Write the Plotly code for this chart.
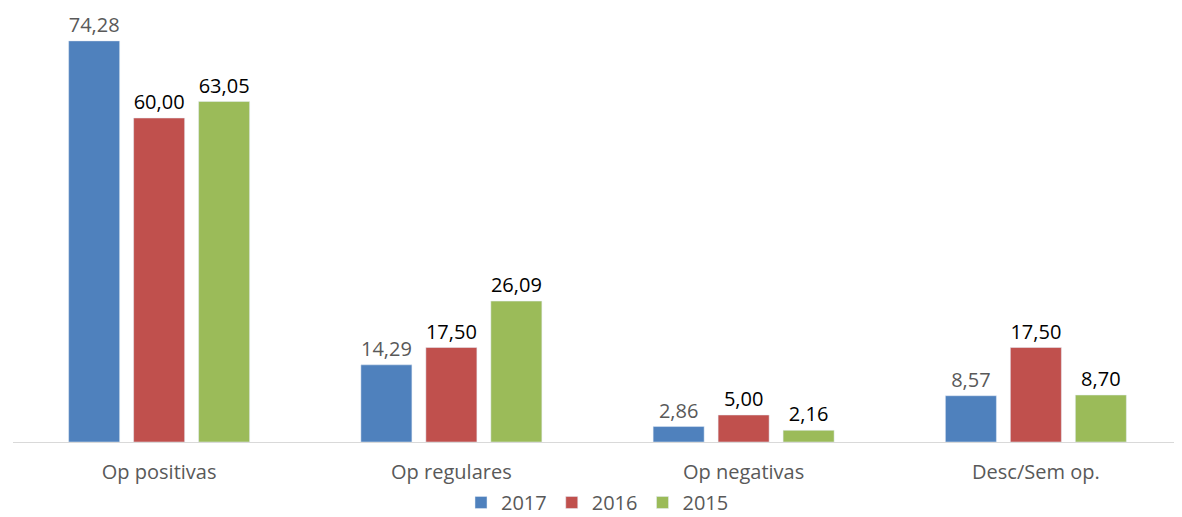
import plotly.graph_objects as go

categories = ["Op positivas", "Op regulares", "Op negativas", "Desc/Sem op."]
series_names = ["2017", "2016", "2015"]
values_2017 = [74.28, 14.29, 2.86, 8.57]
values_2016 = [60.00, 17.50, 5.00, 17.50]
values_2015 = [63.05, 26.09, 2.16, 8.70]

colors = ["#4F81BD", "#C0504D", "#9BBB59"]
label_colors = ["#595959", "#000000", "#000000"]

fig = go.Figure()
for name, vals, c, lc in zip(series_names, [values_2017, values_2016, values_2015], colors, label_colors):
    fig.add_trace(go.Bar(
        name=name, x=categories, y=vals,
        marker=dict(color=c),
        text=[f"{v:.2f}".replace(".", ",") for v in vals],
        textposition="outside",
        constraintext="none",
        textfont=dict(color=lc, size=20, family="Open Sans"),
        cliponaxis=False,
    ))

# page body has an 8px margin, so the figure is sized 8px smaller and shifted
fig.update_layout(
    width=1174, height=509,
    barmode="group", bargap=0.333, bargroupgap=0.215,
    margin=dict(l=5, r=0, t=2, b=75, autoexpand=False),
    plot_bgcolor="white", paper_bgcolor="white",
    font=dict(family="Open Sans", color="#595959", size=20),
    xaxis=dict(showline=True, linecolor="#D9D9D9", linewidth=1, ticks="",
               tickfont=dict(size=20, color="#595959"), showgrid=False,
               ticklabelstandoff=12),
    yaxis=dict(range=[0, 80], visible=False, showgrid=False, zeroline=False),
    legend=dict(orientation="h", x=0.5, xanchor="center", y=-0.14, yanchor="middle",
                font=dict(size=20, color="#595959"), itemwidth=30,
                tracegroupgap=0),
    showlegend=True,
)

fig.write_html("out.html")
